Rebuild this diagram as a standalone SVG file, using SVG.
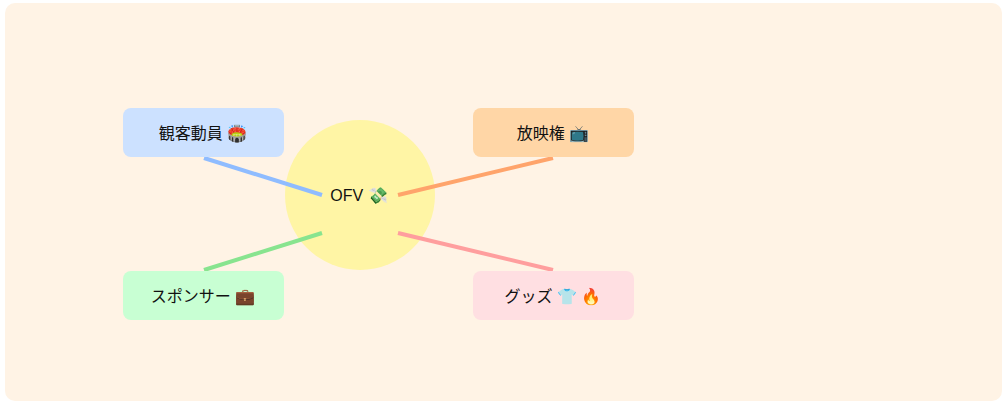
<svg xmlns="http://www.w3.org/2000/svg" width="1007" height="402" viewBox="0 0 1007 402">
<style>
text{font-family:"Liberation Sans","Noto Sans CJK JP",sans-serif;font-size:16px;fill:#111;text-anchor:middle;dominant-baseline:central}
.c{stroke-width:4;fill:none}
</style>
<rect x="5" y="3" width="997" height="398" rx="10" fill="#FFF3E5"/>
<g id="center"><circle cx="360" cy="195" r="75" fill="#FFF5A5"/></g>
<g id="connectors">
<line class="c" x1="204" y1="158" x2="322" y2="195" stroke="#8FBCFF"/>
<line class="c" x1="398" y1="195" x2="553" y2="158" stroke="#FFA46B"/>
<line class="c" x1="322" y1="233" x2="204" y2="270" stroke="#88E48F"/>
<line class="c" x1="398" y1="233" x2="553" y2="270" stroke="#FF9E9E"/>
</g>
<g id="center-label"><text x="359" y="195">OFV 💸</text></g>
<g id="n1"><rect x="123" y="108" width="161" height="49" rx="8" fill="#CCE1FF"/><text x="203" y="133">観客動員 🏟️</text></g>
<g id="n2"><rect x="473" y="108" width="161" height="49" rx="8" fill="#FFD6A6"/><text x="553" y="133">放映権 📺</text></g>
<g id="n3"><rect x="123" y="271" width="161" height="49" rx="8" fill="#C8FFD3"/><text x="203" y="296">スポンサー 💼</text></g>
<g id="n4"><rect x="473" y="271" width="161" height="49" rx="8" fill="#FFDFE2"/><text x="553" y="296">グッズ 👕 🔥</text></g>
</svg>
